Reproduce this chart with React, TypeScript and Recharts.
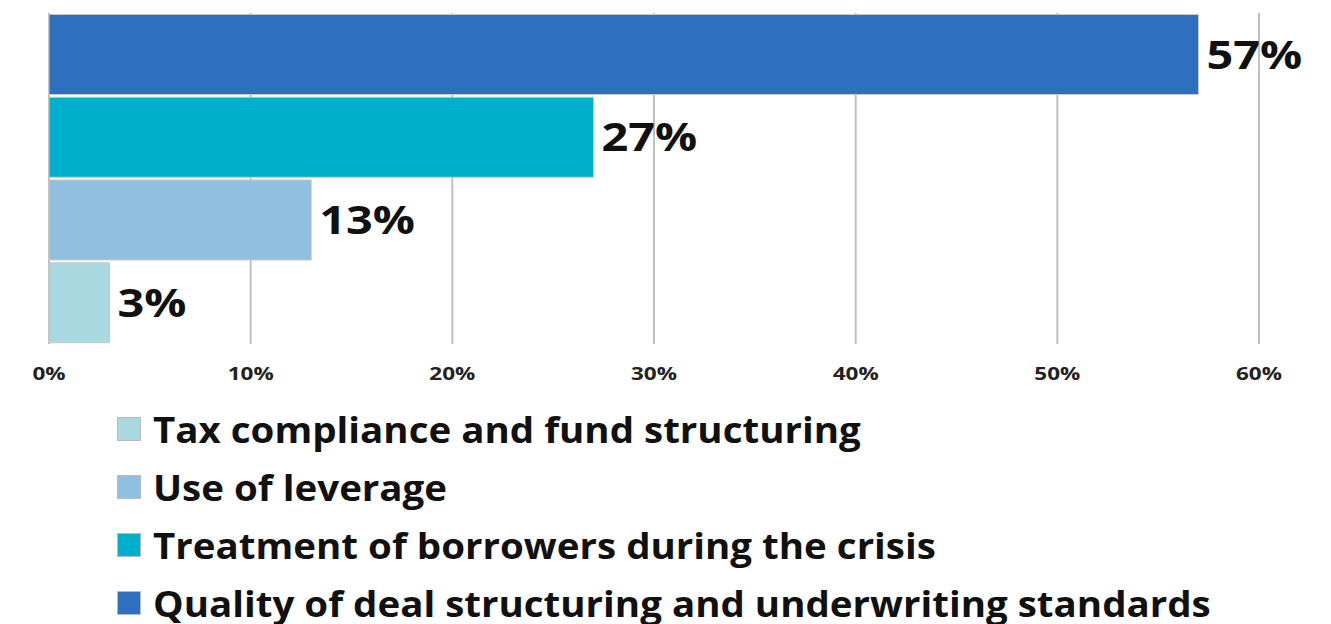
import { BarChart, Bar, XAxis, YAxis, CartesianGrid, LabelList, Cell } from 'recharts';

const categories = [
  'Quality of deal structuring and underwriting standards',
  'Treatment of borrowers during the crisis',
  'Use of leverage',
  'Tax compliance and fund structuring',
];
const values = [57, 27, 13, 3];
const colors = ['#2E70BE', '#00AFCB', '#8FC0DF', '#A8D9E0'];
const ticks = [0, 10, 20, 30, 40, 50, 60];

const data = categories.map((name, i) => ({ name, value: values[i], color: colors[i] }));
const font = "'Open Sans', sans-serif";

// text in the source is drawn a bit wider than Open Sans, so stretch it
const AxisTick = ({ x, y, payload }: any) => (
  <text
    transform={`translate(${x},${y}) scale(1.25,1)`}
    textAnchor="middle"
    dy="0.71em"
    fontSize={18}
    fontWeight={700}
    fill="#222"
    fontFamily={font}
  >
    {`${payload.value}%`}
  </text>
);

const ValueLabel = ({ x, y, width, height, value }: any) => (
  <text
    transform={`translate(${x + width + 8},${y + height / 2}) scale(1.2,1)`}
    dy="0.36em"
    fontSize={39}
    fontWeight={700}
    fill="#111"
    fontFamily={font}
  >
    {`${value}%`}
  </text>
);

export default function App() {
  return (
    <div style={{ position: 'absolute', left: 0, top: 0, width: 1331, height: 624, background: '#fff', fontFamily: font, overflow: 'hidden' }}>
      <BarChart
        width={1331}
        height={400}
        data={data}
        layout="vertical"
        margin={{ top: 13, right: 72, left: 49, bottom: 0 }}
        barCategoryGap={1.5}
      >
        <CartesianGrid horizontal={false} stroke="#C0C0C0" strokeWidth={2} />
        <XAxis
          type="number"
          domain={[0, 60]}
          ticks={ticks}
          axisLine={false}
          tickLine={false}
          height={56}
          tickMargin={17}
          tick={<AxisTick />}
        />
        <YAxis type="category" dataKey="name" hide />
        <Bar dataKey="value" stroke="#C8C8C8" strokeWidth={1} isAnimationActive={false}>
          {data.map((d) => (
            <Cell key={d.name} fill={d.color} />
          ))}
          <LabelList dataKey="value" content={<ValueLabel />} />
        </Bar>
      </BarChart>
      <div style={{ position: 'absolute', left: 117, top: 400 }}>
        {[...data].reverse().map((d) => (
          <div key={d.name} style={{ display: 'flex', alignItems: 'center', height: 58 }}>
            <span style={{ width: 24, height: 24, background: d.color, border: '1px solid #bbb', marginRight: 12, boxSizing: 'border-box', flex: 'none' }} />
            <span style={{ fontSize: 35, fontWeight: 700, color: '#111', whiteSpace: 'nowrap', display: 'inline-block', transform: 'scaleX(1.1)', transformOrigin: 'left center' }}>{d.name}</span>
          </div>
        ))}
      </div>
    </div>
  );
}
